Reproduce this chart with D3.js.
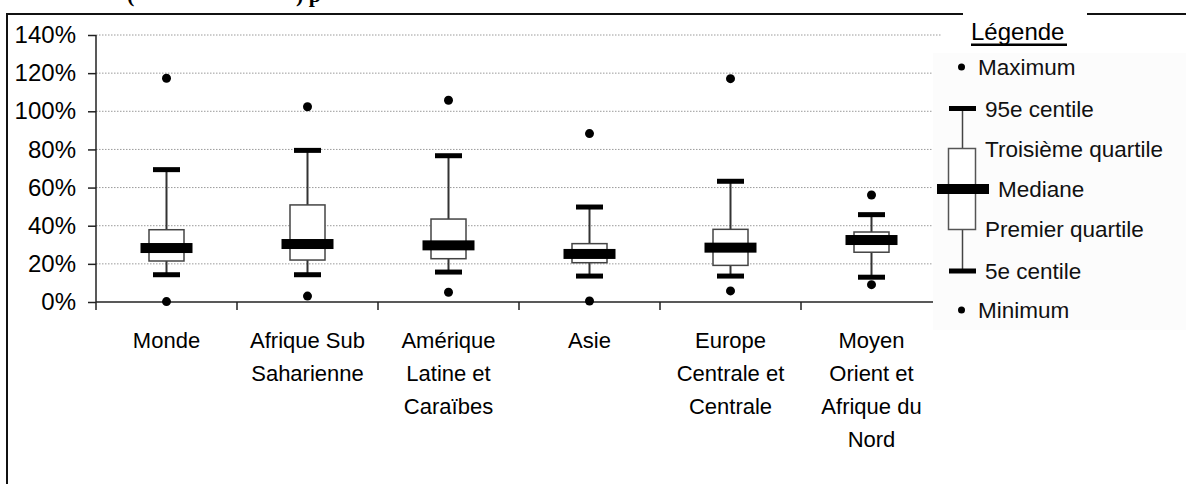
<!DOCTYPE html>
<html>
<head>
<meta charset="utf-8">
<script src="https://cdn.jsdelivr.net/npm/d3@7"></script>
<style>
  html, body { margin: 0; padding: 0; background: #ffffff; }
  svg { display: block; }
  text { font-family: "Liberation Sans", Arial, sans-serif; }
</style>
</head>
<body>
<svg id="chart" width="1186" height="484"></svg>
<script>
// ---- data ----
const categories = ["Monde", "Afrique Sub Saharienne", "Amérique Latine et Caraïbes", "Asie", "Europe Centrale et Centrale", "Moyen Orient et Afrique du Nord"];
const categoryLines = [["Monde"], ["Afrique Sub", "Saharienne"], ["Amérique", "Latine et", "Caraïbes"], ["Asie"], ["Europe", "Centrale et", "Centrale"], ["Moyen", "Orient et", "Afrique du", "Nord"]];
const maximum  = [1.173, 1.024, 1.058, 0.883, 1.171, 0.561];
const p95      = [0.694, 0.795, 0.767, 0.498, 0.633, 0.458];
const q3       = [0.379, 0.509, 0.435, 0.306, 0.381, 0.367];
const median   = [0.283, 0.304, 0.297, 0.252, 0.285, 0.325];
const q1       = [0.215, 0.220, 0.227, 0.206, 0.192, 0.261];
const p5       = [0.143, 0.143, 0.157, 0.136, 0.136, 0.130];
const minimum  = [0.002, 0.031, 0.051, 0.005, 0.058, 0.091];
const yTicks   = [0, 0.2, 0.4, 0.6, 0.8, 1.0, 1.2, 1.4];
const legendTitle = "Légende";
const legendLabels = ["Maximum", "95e centile", "Troisième quartile", "Mediane", "Premier quartile", "5e centile", "Minimum"];

const svg = d3.select("#chart");

// ---- title fragments (clipped at top) ----
const title = svg.append("text")
  .attr("y", 2)
  .style("font-family", "'Liberation Serif', 'Times New Roman', serif")
  .style("font-weight", "bold")
  .style("font-size", "22px")
  .attr("fill", "#000");
title.append("tspan").attr("x", 127).text("(");
title.append("tspan").attr("x", 296).text(") p");

// ---- frame ----
svg.append("path")
  .attr("d", "M7,490 L7,14 L1190,14")
  .attr("fill", "none").attr("stroke", "#111").attr("stroke-width", 2);

// ---- scales ----
const y = d3.scaleLinear().domain([0, 1.4]).range([302, 35]);
const x = d3.scaleBand().domain(categories).range([96, 942]);
const cx = c => x(c) + x.bandwidth() / 2;

// ---- grid ----
svg.append("g").selectAll("line").data(yTicks.filter(d => d > 0)).join("line")
  .attr("x1", 96).attr("x2", 942)
  .attr("y1", d => y(d)).attr("y2", d => y(d))
  .attr("stroke", "#9a9a9a").attr("stroke-width", 1).attr("stroke-dasharray", "1.5,1.5");

// ---- y axis ----
const yAxis = svg.append("g").attr("transform", "translate(96,0)")
  .call(d3.axisLeft(y).tickValues(yTicks).tickFormat(d3.format(".0%")).tickSize(8).tickPadding(12));
yAxis.select(".domain").remove();
yAxis.selectAll(".tick line").attr("stroke", "#222").attr("stroke-width", 1.5);
yAxis.selectAll(".tick text").style("font-size", "24px").attr("fill", "#000")
  .style("font-family", "'Liberation Sans', Arial, sans-serif");
svg.append("line").attr("x1", 96).attr("x2", 96).attr("y1", y(1.4)).attr("y2", 310)
  .attr("stroke", "#222").attr("stroke-width", 1.5);

// ---- x axis ----
svg.append("line").attr("x1", 96).attr("x2", 942).attr("y1", y(0)).attr("y2", y(0))
  .attr("stroke", "#222").attr("stroke-width", 1.5);
const bounds = categories.map(c => x(c)).concat([x.range()[1]]);
svg.append("g").selectAll("line").data(bounds.slice(1)).join("line")
  .attr("x1", d => d).attr("x2", d => d).attr("y1", y(0)).attr("y2", 310)
  .attr("stroke", "#222").attr("stroke-width", 1.5);

// category labels
const lab = svg.append("g").selectAll("text").data(categories).join("text")
  .attr("text-anchor", "middle").style("font-size", "22px").attr("fill", "#000");
lab.each(function(c, i) {
  const t = d3.select(this);
  categoryLines[i].forEach((ln, j) => {
    t.append("tspan").attr("x", cx(c)).attr("y", 348 + j * 33).text(ln);
  });
});

// ---- boxes ----
const g = svg.append("g");
categories.forEach((c, i) => {
  const m = cx(c);
  // whisker line
  g.append("line").attr("x1", m).attr("x2", m).attr("y1", y(p95[i])).attr("y2", y(p5[i]))
    .attr("stroke", "#333").attr("stroke-width", 2);
  // box
  g.append("rect").attr("x", m - 17.5).attr("width", 35)
    .attr("y", y(q3[i])).attr("height", y(q1[i]) - y(q3[i]))
    .attr("fill", "#fff").attr("stroke", "#444").attr("stroke-width", 1.5);
  // caps
  [p95[i], p5[i]].forEach(v => {
    g.append("rect").attr("x", m - 13.5).attr("width", 27).attr("y", y(v) - 2.5).attr("height", 5).attr("fill", "#000");
  });
  // median
  g.append("rect").attr("x", m - 26).attr("width", 52).attr("y", y(median[i]) - 5).attr("height", 10).attr("fill", "#000");
  // dots
  [maximum[i], minimum[i]].forEach(v => {
    g.append("circle").attr("cx", m).attr("cy", y(v)).attr("r", 4.5).attr("fill", "#000");
  });
});

// ---- legend ----
svg.append("rect").attr("x", 963).attr("y", 8).attr("width", 124).attr("height", 45).attr("fill", "#fff");
svg.append("rect").attr("x", 933).attr("y", 53).attr("width", 253).attr("height", 277).attr("fill", "#fcfcfc");
svg.append("text").attr("x", 971).attr("y", 40).style("font-size", "24px").attr("fill", "#000").text(legendTitle);
svg.append("rect").attr("x", 971).attr("y", 43.5).attr("width", 96).attr("height", 2.5).attr("fill", "#000");

const L = svg.append("g");
const lx = 962.5;
L.append("line").attr("x1", lx).attr("x2", lx).attr("y1", 108).attr("y2", 271).attr("stroke", "#444").attr("stroke-width", 1.5);
L.append("rect").attr("x", 948.5).attr("y", 148.5).attr("width", 27).attr("height", 81).attr("fill", "#fff").attr("stroke", "#555").attr("stroke-width", 1.5);
L.append("rect").attr("x", 949).attr("y", 106).attr("width", 27).attr("height", 5).attr("fill", "#000");
L.append("rect").attr("x", 949).attr("y", 268.5).attr("width", 27).attr("height", 5).attr("fill", "#000");
L.append("rect").attr("x", 937).attr("y", 184).attr("width", 52).attr("height", 10).attr("fill", "#000");
L.append("circle").attr("cx", lx - 1).attr("cy", 67).attr("r", 3.5).attr("fill", "#000");
L.append("circle").attr("cx", lx - 1).attr("cy", 310).attr("r", 3.5).attr("fill", "#000");
const legPos = [[978, 75], [985, 116.5], [985, 156.5], [998, 197], [985, 236.5], [985, 279], [978, 318]];
L.selectAll("text.leg").data(legendLabels).join("text").attr("class", "leg")
  .attr("x", (d, i) => legPos[i][0]).attr("y", (d, i) => legPos[i][1])
  .style("font-size", "22.5px").attr("fill", "#111").text(d => d);
</script>
</body>
</html>
